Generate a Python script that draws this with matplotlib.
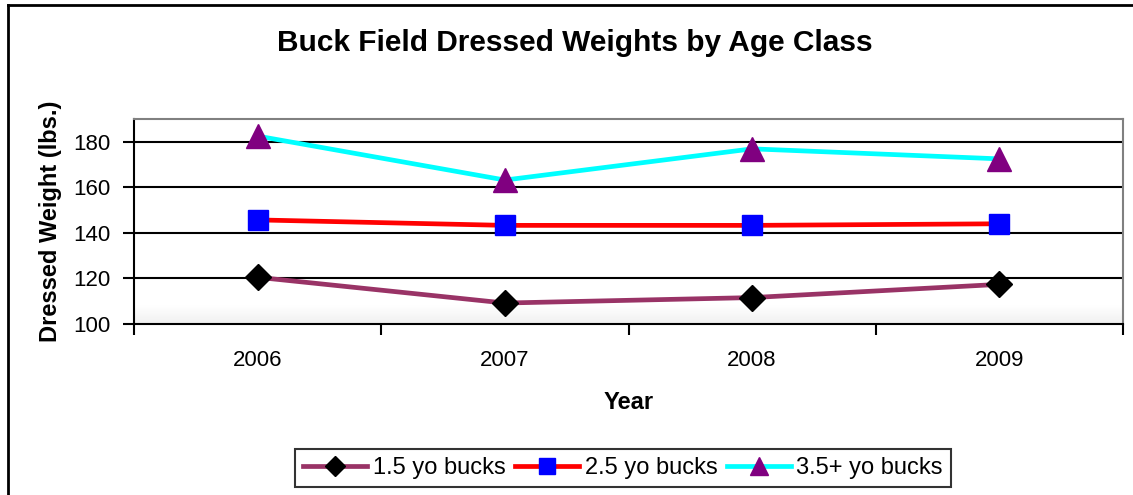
import matplotlib
matplotlib.use("Agg")
import matplotlib.pyplot as plt
from matplotlib.lines import Line2D
import numpy as np

plt.rcParams['font.family'] = ['Liberation Sans', 'DejaVu Sans']

years = ['2006', '2007', '2008', '2009']
bucks_15 = [120.5, 109.2, 111.6, 117.4]
bucks_25 = [145.7, 143.3, 143.3, 144.0]
bucks_35 = [182.5, 163.2, 176.9, 172.5]
series_names = ['1.5 yo bucks', '2.5 yo bucks', '3.5+ yo bucks']
yticks = [100, 120, 140, 160, 180]

fig = plt.figure(figsize=(11.33, 4.95), dpi=100)
ax = fig.add_axes([134/1133, 1-324/495, (1123-134)/1133, (324-119)/495])

# subtle gradient at bottom of plot area
grad = np.ones((100, 1))
grad[-10:, 0] = np.linspace(1.0, 0.94, 10)
ax.imshow(grad, cmap='gray', vmin=0, vmax=1, aspect='auto',
          extent=[-0.5, 3.5, 100, 190], zorder=0, interpolation='bilinear')

x = np.arange(len(years))
l1, = ax.plot(x, bucks_15, color='#993366', lw=3.4, marker='D', ms=13,
              mfc='black', mec='black', zorder=3, label=series_names[0])
l2, = ax.plot(x, bucks_25, color='#FF0000', lw=3.4, marker='s', ms=15,
              mfc='#0000FF', mec='#0000FF', zorder=3, label=series_names[1])
l3, = ax.plot(x, bucks_35, color='#00FFFF', lw=3.4, marker='^', ms=17,
              mfc='#800080', mec='#800080', zorder=3, label=series_names[2])

ax.set_xlim(-0.5, 3.5)
ax.set_ylim(100, 190)
ax.set_yticks(yticks)
ax.set_yticklabels([str(v) for v in yticks], fontsize=16)
for v in yticks[1:]:
    ax.axhline(v, color='black', lw=1.5, zorder=1)

ax.set_xticks(np.arange(-0.5, 4.0, 1.0))
ax.set_xticklabels([])
ax.set_xticks(x, minor=True)
ax.set_xticklabels(years, minor=True, fontsize=16)
ax.tick_params(axis='x', which='major', direction='out', length=8, width=1.5, color='black')
ax.tick_params(axis='x', which='minor', length=0, pad=19)
ax.tick_params(axis='y', direction='out', length=8, width=1.5, pad=9)

ax.spines['left'].set_color('black')
ax.spines['left'].set_linewidth(1.5)
ax.spines['bottom'].set_color('black')
ax.spines['bottom'].set_linewidth(1.5)
ax.spines['top'].set_color('#808080')
ax.spines['top'].set_linewidth(1.5)
ax.spines['right'].set_color('#808080')
ax.spines['right'].set_linewidth(1.5)

ax.set_ylabel('Dressed Weight (lbs.)', fontsize=17, fontweight='bold', labelpad=8)
ax.set_xlabel('Year', fontsize=17, fontweight='bold', labelpad=14)

fig.text(575/1133, 1-43/495, 'Buck Field Dressed Weights by Age Class',
         fontsize=21.5, fontweight='bold', ha='center', va='center')

leg = fig.legend(handles=[l1, l2, l3], loc='center', bbox_to_anchor=(623/1133, 1-468/495),
                 ncol=3, fontsize=17, frameon=True, fancybox=False, handlelength=2.7,
                 columnspacing=0.4, handletextpad=0.25, borderpad=0.35, markerscale=0.75)
leg.get_frame().set_edgecolor('black')
leg.get_frame().set_linewidth(1.5)

# outer chart frame (top and left edges visible)
fig.add_artist(Line2D([8/1133, 1.0], [1-5/495, 1-5/495], color='black', lw=2,
                      transform=fig.transFigure))
fig.add_artist(Line2D([8/1133, 8/1133], [0, 1-5/495], color='black', lw=2,
                      transform=fig.transFigure))

fig.savefig('out.png', dpi=100)
